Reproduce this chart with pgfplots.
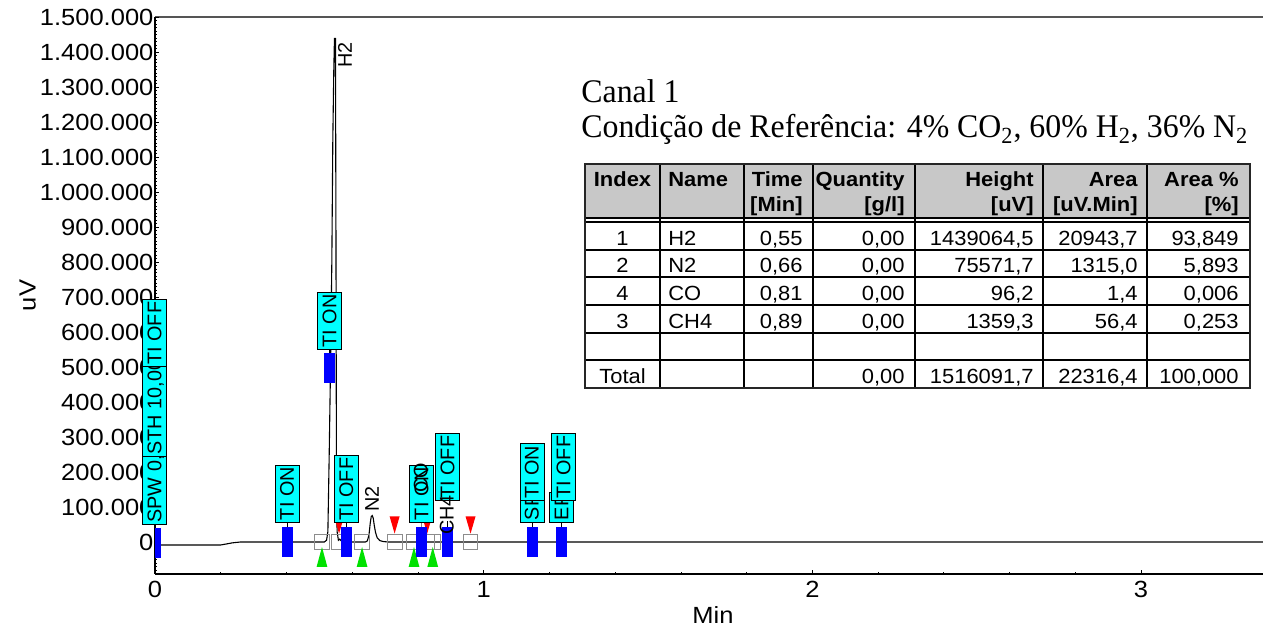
\documentclass[border=0pt]{standalone}
\usepackage{fontspec}
\setmainfont{Liberation Sans}
\newfontfamily\tickfont[FakeStretch=1.09]{Liberation Sans}
\newfontfamily\tabfont[FakeStretch=1.07]{Liberation Sans}
\newfontfamily\titlefont[FakeStretch=0.965]{Liberation Serif}
\usepackage{pgfplots}
\pgfplotsset{compat=1.18}

\definecolor{evcyan}{RGB}{0,255,255}
\definecolor{evblue}{RGB}{0,0,255}
\definecolor{pkgreen}{RGB}{0,225,0}
\definecolor{pkred}{RGB}{255,0,0}
\definecolor{sqgray}{RGB}{140,140,140}
\definecolor{hdrgray}{RGB}{200,200,200}
\definecolor{topgray}{RGB}{85,85,85}

\newcommand\boxfont{\fontsize{9.9}{11}\selectfont}

% event and peak marks
\pgfdeclareplotmark{evbar}{\pgfpathrectangle{\pgfpoint{-2.75pt}{-7.5pt}}{\pgfpoint{5.5pt}{15pt}}\pgfusepathqfill}
\pgfdeclareplotmark{evhalf}{\pgfpathrectangle{\pgfpoint{0pt}{-7.5pt}}{\pgfpoint{3pt}{15pt}}\pgfusepathqfill}
\pgfdeclareplotmark{upT}{\pgfpathmoveto{\pgfpoint{0pt}{5pt}}\pgfpathlineto{\pgfpoint{2.7pt}{-5pt}}\pgfpathlineto{\pgfpoint{-2.7pt}{-5pt}}\pgfpathclose\pgfusepathqfill}
\pgfdeclareplotmark{dnT}{\pgfpathmoveto{\pgfpoint{0pt}{-4.3pt}}\pgfpathlineto{\pgfpoint{2.5pt}{4.3pt}}\pgfpathlineto{\pgfpoint{-2.5pt}{4.3pt}}\pgfpathclose\pgfusepathqfill}
\pgfdeclareplotmark{sqmark}{\pgfpathrectangle{\pgfpoint{-3.7pt}{-3.7pt}}{\pgfpoint{7.4pt}{7.4pt}}\pgfusepathqstroke}

\tikzset{
  evbox/.style={rotate=90, anchor=west, fill=evcyan, draw=black, line width=0.5pt,
    font=\boxfont, text=black, inner xsep=1pt, inner ysep=2.2pt,
    text height=7pt, text depth=0.6pt},
}

\newcommand\cR[3]{\node[anchor=base east,inner sep=0] at (#1,#2) {#3};}
\newcommand\cL[3]{\node[anchor=base west,inner sep=0] at (#1,#2) {#3};}
\newcommand\cC[3]{\node[anchor=base,inner sep=0] at (#1,#2) {#3};}

\begin{document}
\begin{tikzpicture}
\path[use as bounding box] (0,0) rectangle (631.5pt,313pt);
\begin{axis}[
  at={(77.5pt,26pt)}, anchor=south west,
  scale only axis, width=554pt, height=278.5pt,
  xmin=0, xmax=3.371, ymin=-91430, ymax=1500000,
  axis x line*=bottom, axis y line*=left,
  axis line style={black, line width=0.6pt},
  xtick={0,1,2,3}, minor x tick num=4,
  ytick={-100000,0,100000,200000,300000,400000,500000,600000,700000,800000,
         900000,1000000,1100000,1200000,1300000,1400000,1500000},
  minor y tick num=9,
  tick align=inside, major tick length=2pt, minor tick length=1.2pt,
  tick style={black, line width=0.4pt},
  scaled y ticks=false,
  /pgf/number format/assume math mode=true,
  yticklabel style={inner xsep=0.6pt, /pgf/number format/fixed,
    /pgf/number format/precision=0, /pgf/number format/1000 sep={.}},
  ticklabel style={font=\tickfont\fontsize{11.7}{13}\selectfont},
  xlabel={Min}, ylabel={uV},
  label style={font=\tickfont\fontsize{11.7}{13}\selectfont},
  xlabel style={at={(axis description cs:0.5036,-0.0736)}, anchor=center},
  ylabel style={at={(axis description cs:-0.115,0.5)}, anchor=center},
  clip=false, axis on top,
]
\draw[topgray, line width=1pt] (rel axis cs:0,1) -- (rel axis cs:1,1);

% detector signal
\addplot[black, line width=0.55pt] coordinates {
  (0,-8500) (0.20,-8500) (0.215,-6000) (0.235,-2500) (0.26,0) (0.515,0)
  (0.522,5000) (0.526,30000) (0.530,250000) (0.534,500000) (0.538,800000)
  (0.541,1150000) (0.544,1350000) (0.546,1439064) (0.549,1439064)
  (0.5505,900000) (0.552,200000) (0.554,30000) (0.558,5000) (0.562,8000)
  (0.568,2000) (0.58,0) (0.640,0) (0.646,3000) (0.651,20000) (0.655,55000)
  (0.658,73000) (0.661,75571) (0.664,68000) (0.667,48000) (0.671,27000)
  (0.676,12000) (0.684,4000) (0.695,1200) (0.71,0) (3.371,0)
};

% baseline points
\addplot[only marks, mark=sqmark, color=sqgray, mark options={line width=0.5pt}] coordinates {
  (0.508,0) (0.560,0) (0.630,0) (0.729,0) (0.788,0) (0.828,0) (0.845,0) (0.960,0)
};
\addplot[only marks, mark=upT, color=pkgreen] coordinates {
  (0.508,-42857) (0.630,-42857) (0.788,-42857) (0.845,-42857)
};
\addplot[only marks, mark=dnT, color=pkred] coordinates {
  (0.560,48570) (0.729,48570) (0.828,48570) (0.960,48570)
};

% timed events
\addplot[only marks, mark=evbar, color=evblue] coordinates {
  (0.403,0) (0.532,497100) (0.583,0) (0.812,0) (0.891,0) (1.148,0) (1.238,0)
};
\addplot[only marks, mark=evhalf, color=evblue] coordinates {(0,-2857)};

\addplot[only marks, mark=none, point meta=explicit symbolic,
  nodes near coords, nodes near coords style={evbox}] coordinates {
  (0,48570) [{SPW 0,}]
  (0,242850) [{STH 10,00}]
  (0,500000) [{TI OFF}]
  (0.403,55700) [{TI ON}]
  (0.532,548600) [{TI ON}]
  (0.583,54300) [{TI OFF}]
  (0.812,55700) [{TI ON}]
  (0.891,117100) [{TI OFF}]
  (1.148,55700) [{SF}]
  (1.148,117100) [{TI ON}]
  (1.238,55700) [{EF}]
  (1.244,117100) [{TI OFF}]
};

\addplot[black, line width=0.5pt] coordinates {(0.403,0) (0.403,100000)};
\addplot[black, line width=0.5pt] coordinates {(0.532,497100) (0.532,570000)};
\addplot[black, line width=0.5pt] coordinates {(0.583,0) (0.583,71000)};
\addplot[black, line width=0.5pt] coordinates {(0.812,0) (0.812,60000)};
\addplot[black, line width=0.5pt] coordinates {(0.891,0) (0.891,60000)};
\addplot[black, line width=0.5pt] coordinates {(1.148,0) (1.148,117100)};
\addplot[black, line width=0.5pt] coordinates {(1.238,0) (1.238,117100)};
\addplot[gray, line width=0.4pt] coordinates {(0.812,5000) (0.812,157000)};

% peak names
\addplot[only marks, mark=none, point meta=explicit symbolic, nodes near coords,
  nodes near coords style={rotate=90, anchor=west, font=\boxfont, text=black, inner sep=0pt}]
  coordinates {(0.578,1354000) [H2] (0.660,85700) [N2] (0.809,140000) [CO] (0.888,20000) [CH4]};
\end{axis}

\begin{scope}[x=0.5pt, y=-0.5pt, shift={(0pt,313pt)}]
  \node[anchor=base west, inner sep=0, font=\titlefont\fontsize{16.5}{19}\selectfont] at (581,103) {Canal 1};
  \node[anchor=base west, inner sep=0, font=\titlefont\fontsize{16.5}{19}\selectfont] at (581,138)
    {Condição de Referência: 4\% CO\textsubscript{2}, 60\% H\textsubscript{2}, 36\% N\textsubscript{2}};

  \fill[hdrgray] (585,164) rectangle (1250,218);
  \begin{scope}[line width=0.7pt, black]
    \foreach \yy in {218,222,250,277,305,333} \draw (585,\yy) -- (1250,\yy);
    \draw[line width=1.1pt] (585,360) -- (1250,360);
    \foreach \xx in {660,744,813,915,1043,1147} \draw (\xx,164) -- (\xx,388);
  \end{scope}
  \draw[line width=1.2pt, black!85] (585,164) rectangle (1250,388);

  \begin{scope}[font=\tabfont\bfseries\fontsize{10.25}{12}\selectfont]
    \cC{622.5}{187}{Index}
    \cL{668}{187}{Name}
    \cR{803}{187}{Time}   \cR{803}{212}{[Min]}
    \cR{905}{187}{Quantity} \cR{905}{212}{[g/l]}
    \cR{1034}{187}{Height} \cR{1034}{212}{[uV]}
    \cR{1138}{187}{Area} \cR{1138}{212}{[uV.Min]}
    \cR{1239}{187}{Area \%} \cR{1239}{212}{[\%]}
  \end{scope}
  \begin{scope}[font=\tabfont\fontsize{10.25}{12}\selectfont]
    \cC{622.5}{246}{1} \cL{668}{246}{H2} \cR{803}{246}{0,55} \cR{905}{246}{0,00}
    \cR{1034}{246}{1439064,5} \cR{1138}{246}{20943,7} \cR{1239}{246}{93,849}
    \cC{622.5}{273}{2} \cL{668}{273}{N2} \cR{803}{273}{0,66} \cR{905}{273}{0,00}
    \cR{1034}{273}{75571,7} \cR{1138}{273}{1315,0} \cR{1239}{273}{5,893}
    \cC{622.5}{301}{4} \cL{668}{301}{CO} \cR{803}{301}{0,81} \cR{905}{301}{0,00}
    \cR{1034}{301}{96,2} \cR{1138}{301}{1,4} \cR{1239}{301}{0,006}
    \cC{622.5}{329}{3} \cL{668}{329}{CH4} \cR{803}{329}{0,89} \cR{905}{329}{0,00}
    \cR{1034}{329}{1359,3} \cR{1138}{329}{56,4} \cR{1239}{329}{0,253}
    \cC{622.5}{384}{Total} \cR{905}{384}{0,00}
    \cR{1034}{384}{1516091,7} \cR{1138}{384}{22316,4} \cR{1239}{384}{100,000}
  \end{scope}
\end{scope}
\end{tikzpicture}
\end{document}
